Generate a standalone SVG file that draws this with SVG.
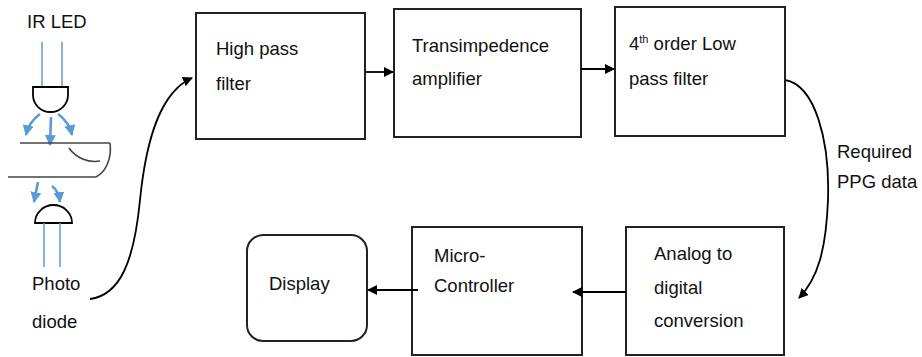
<svg xmlns="http://www.w3.org/2000/svg" width="922" height="357" viewBox="0 0 922 357">
  <defs>
    <marker id="arrow" viewBox="0 0 10 10" refX="9" refY="5" markerWidth="10" markerHeight="10" markerUnits="userSpaceOnUse" orient="auto">
      <path d="M0,0 L10,5 L0,10 Z" fill="#000"/>
    </marker>
    <marker id="blueArrow" viewBox="0 0 10 10" refX="9" refY="5" markerWidth="11" markerHeight="11" markerUnits="userSpaceOnUse" orient="auto">
      <path d="M0,0 L10,5 L0,10 Z" fill="#5b9bd5"/>
    </marker>
  </defs>
  <style>
    .box { fill: #fff; stroke: #222; stroke-width: 2; }
    .label { font-family: "Liberation Sans", Arial, sans-serif; font-size: 18.5px; fill: #111; }
    .conn { fill: none; stroke: #000; stroke-width: 1.8; }
    .lead { stroke: #5b9bd5; stroke-width: 1.5; fill: none; }
    .ray { stroke: #5b9bd5; stroke-width: 2.6; fill: none; }
    .part { fill: #fff; stroke: #000; stroke-width: 1.8; }
    .tube { fill: none; stroke: #444; stroke-width: 1.6; }
  </style>
  <rect width="922" height="357" fill="#fff"/>

  <!-- sensor: IR LED, finger, photodiode -->
  <g id="sensor">
    <text class="label" x="27" y="28">IR LED</text>
    <line class="lead" x1="42" y1="42" x2="42" y2="88"/>
    <line class="lead" x1="62" y1="42" x2="62" y2="88"/>
    <path class="part" d="M33,87 H68 V95 A17.5,17 0 0 1 33,95 Z"/>
    <path class="ray" d="M40,114 C33,119 28,126 26,135" marker-end="url(#blueArrow)"/>
    <path class="ray" d="M51,117 L50,145" marker-end="url(#blueArrow)"/>
    <path class="ray" d="M58,114 C65,119 70,126 72,135" marker-end="url(#blueArrow)"/>
    <line class="tube" x1="20" y1="143" x2="110" y2="143"/>
    <line class="tube" x1="8" y1="177" x2="96" y2="177"/>
    <path class="tube" d="M110,143 C112,158 106,172 96,177"/>
    <path class="tube" d="M69,148 C76,158 88,163 100,161"/>
    <path class="ray" d="M38,182 L34,202" marker-end="url(#blueArrow)"/>
    <path class="ray" d="M52,186 C56,189 59,194 60,202" marker-end="url(#blueArrow)"/>
    <path class="part" d="M35,223 A18.5,18 0 0 1 72,223 Z"/>
    <line class="lead" x1="44" y1="223" x2="44" y2="267"/>
    <line class="lead" x1="60" y1="223" x2="60" y2="267"/>
    <text class="label" x="32" y="290">Photo</text>
    <text class="label" x="32" y="328">diode</text>
  </g>

  <g id="high-pass">
    <rect class="box" x="196" y="13" width="169" height="126"/>
    <text class="label" x="216" y="55">High pass</text>
    <text class="label" x="216" y="90">filter</text>
  </g>

  <g id="transimpedance">
    <rect class="box" x="394" y="9" width="187" height="128"/>
    <text class="label" x="412" y="52">Transimpedence</text>
    <text class="label" x="412" y="85">amplifier</text>
  </g>

  <g id="low-pass">
    <rect class="box" x="615" y="7" width="170" height="129"/>
    <text class="label" x="629" y="50">4<tspan font-size="11" dy="-7">th</tspan><tspan dy="7"> order Low</tspan></text>
    <text class="label" x="629" y="85">pass filter</text>
  </g>

  <g id="adc">
    <rect class="box" x="626" y="227" width="158" height="128"/>
    <text class="label" x="654" y="260">Analog to</text>
    <text class="label" x="654" y="294">digital</text>
    <text class="label" x="654" y="327">conversion</text>
  </g>

  <g id="microcontroller">
    <rect class="box" x="412" y="227" width="170" height="128"/>
    <text class="label" x="434" y="262">Micro-</text>
    <text class="label" x="434" y="292">Controller</text>
  </g>

  <g id="display">
    <rect class="box" x="247" y="235" width="120" height="106" rx="16" ry="16"/>
    <text class="label" x="269" y="290">Display</text>
  </g>

  <g id="data-label">
    <text class="label" x="837" y="158">Required</text>
    <text class="label" x="837" y="188">PPG data</text>
  </g>

  <g id="connectors">
    <path class="conn" d="M90,299 C120,295 134,262 140,200 C146,140 160,92 192,78" marker-end="url(#arrow)"/>
    <line class="conn" x1="365" y1="72" x2="393" y2="72" marker-end="url(#arrow)"/>
    <line class="conn" x1="581" y1="69" x2="614" y2="69" marker-end="url(#arrow)"/>
    <path class="conn" d="M785,80 C815,85 830,140 828,200 C826,250 818,278 799,298" marker-end="url(#arrow)"/>
    <line class="conn" x1="626" y1="292" x2="573" y2="292" marker-end="url(#arrow)"/>
    <line class="conn" x1="418" y1="290" x2="368" y2="290" marker-end="url(#arrow)"/>
  </g>
</svg>
